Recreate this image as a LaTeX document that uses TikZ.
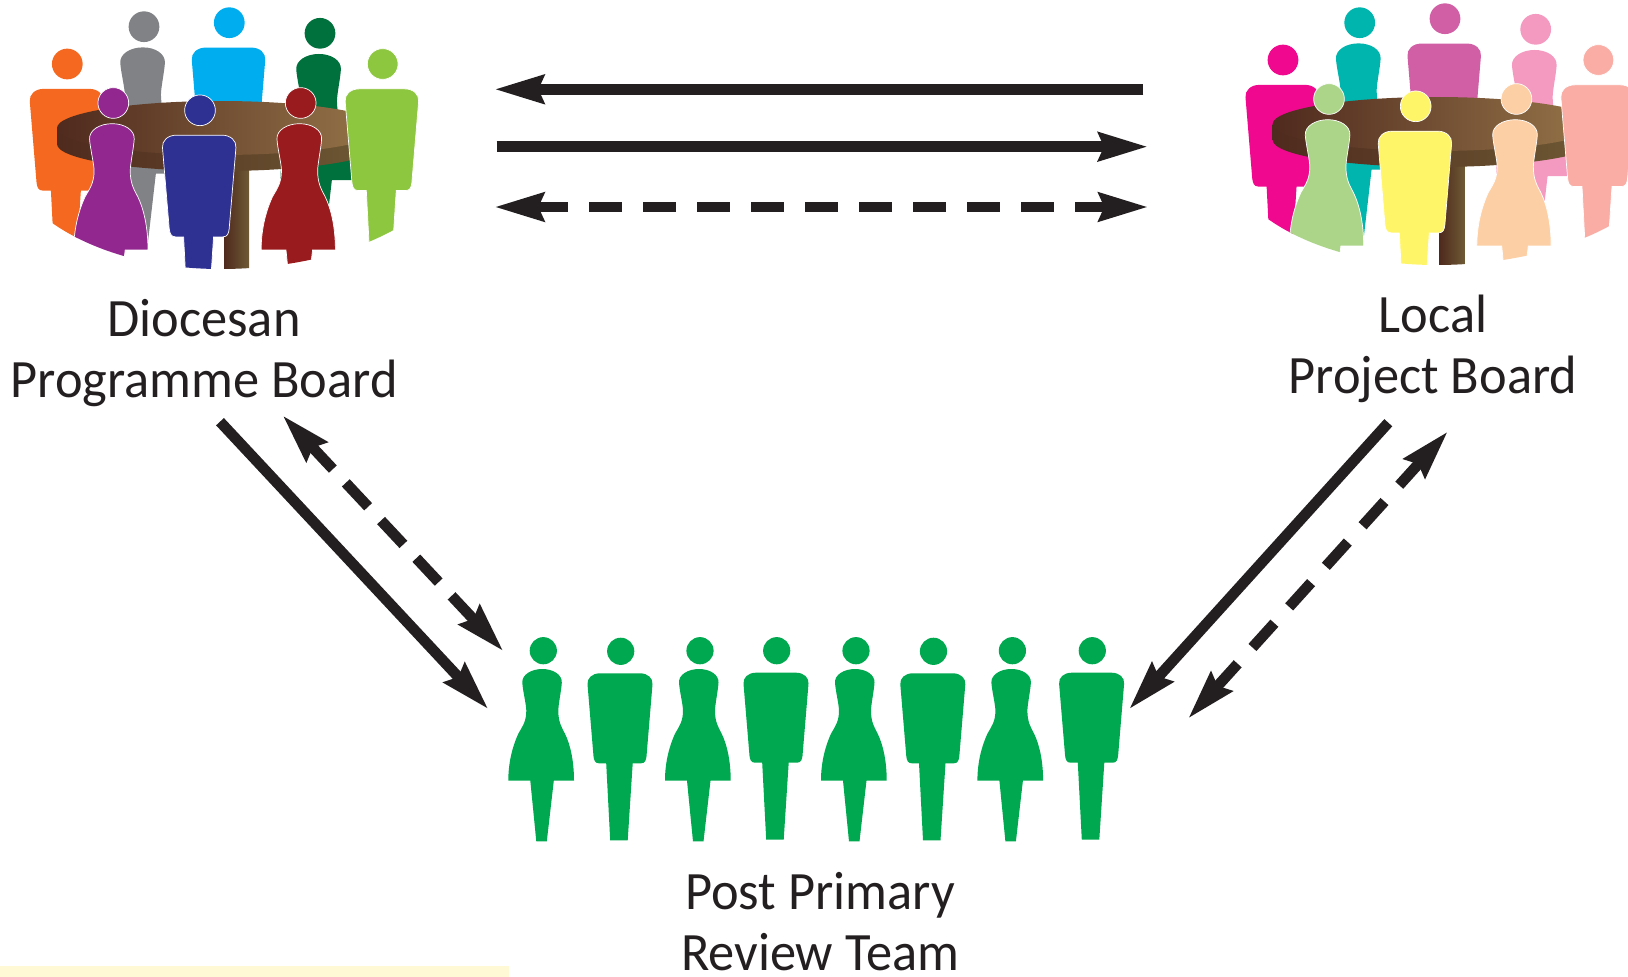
\documentclass[tikz,border=0pt]{standalone}
\usepackage{fontspec}
\setmainfont{Carlito}[FakeStretch=0.97]
\usetikzlibrary{arrows.meta}

\definecolor{inkblack}{HTML}{231F20}
\definecolor{teamgreen}{HTML}{00A94F}
\definecolor{tabledark}{HTML}{4F2A1E}
\definecolor{tablemid}{HTML}{8A6640}
\definecolor{tablelight}{HTML}{967549}
\definecolor{tableside}{HTML}{6E5A34}
\definecolor{bandyellow}{HTML}{FFF9D6}
\definecolor{huorange}{HTML}{F56820}
\definecolor{hugrey}{HTML}{808285}
\definecolor{hucyan}{HTML}{00AEEF}
\definecolor{hudkgreen}{HTML}{00703C}
\definecolor{hulime}{HTML}{8DC63F}
\definecolor{hupurple}{HTML}{92278F}
\definecolor{hublue}{HTML}{2E3192}
\definecolor{hured}{HTML}{991B1E}
\definecolor{hupink}{HTML}{F0098F}
\definecolor{huteal}{HTML}{00B5AD}
\definecolor{humauve}{HTML}{D15FA5}
\definecolor{hultpink}{HTML}{F49AC1}
\definecolor{husalmon}{HTML}{F9ADA5}
\definecolor{hultgreen}{HTML}{ADD58A}
\definecolor{huyellow}{HTML}{FFF568}
\definecolor{hupeach}{HTML}{FDCFA5}

\tikzset{
    pics/manfig/.style={code={
        \path[pic actions] (0,0) circle[radius=13.6];
        \path[pic actions] (-14.5,112) -- (-10.5,189) -- (7,189) -- (12,112) -- (20.3,112)
            .. controls (24.3,112) and (25.3,109) .. (25.8,105) -- (31.8,33)
            .. controls (32.3,27) and (27.3,22) .. (19.3,22) -- (-20.7,22)
            .. controls (-28.7,22) and (-33.7,27) .. (-33.2,33) -- (-27.2,105)
            .. controls (-26.7,109) and (-25.7,112) .. (-21.7,112) -- cycle;
    }},
    pics/womanfig/.style={code={
        \path[pic actions] (0,0) circle[radius=13.6];
        \path[pic actions] (-13,130) -- (-7,190.7) -- (3.5,190.7) -- (10.5,130) -- (30.7,130)
            .. controls (30.7,110) and (27,94) .. (21.7,83)
            .. controls (18,76) and (15,71) .. (15,60)
            .. controls (15,54) and (18,40) .. (18.5,32)
            .. controls (19,24) and (10,18.3) .. (-1,18.3)
            .. controls (-12,18.3) and (-21.5,24) .. (-21,32)
            .. controls (-20.5,40) and (-17,54) .. (-17,60)
            .. controls (-17,71) and (-21,76) .. (-25,83)
            .. controls (-30,94) and (-35,110) .. (-35,130) -- cycle;
    }},
    backrow/.style={scale=1.13},
    frontrow/.style={scale=1.13, draw=white, line width=.7pt},
    boardlabel/.style={align=center, text=inkblack, font=\fontsize{54}{61}\selectfont},
    plainarrow/.style={draw=inkblack, line width=10.7pt},
    headright/.style={-{Stealth[length=49pt, width=27.5pt, inset=5pt, inkblack]}},
    headboth/.style={{Stealth[length=49pt, width=27.5pt, inset=5pt, inkblack]}-{Stealth[length=49pt, width=27.5pt, inset=5pt, inkblack]}},
    dashline/.style 2 args={dash pattern=on 32.7pt off #1, dash phase=#2}
}

% one table with its eight people, clipped along the bottom
\newcommand{\boardgroup}[9]{
    \begin{scope}[shift={#1}]
        \clip (3,143) .. controls (3,212.6) and (100,269) .. (220,269)
            .. controls (352.5,269) and (460,212.6) .. (460,143) -- (460,-20) -- (3,-20) -- cycle;
        \pic[backrow, fill=#2] at (67.3,64) {manfig};
        \pic[backrow, fill=#3] at (144,26.7) {womanfig};
        \pic[backrow, fill=#4] at (229.3,22.7) {manfig};
        \pic[backrow, fill=#5] at (320,33.3) {womanfig};

        % table leg, side and top
        \shade[left color=tabledark, middle color=tableside, right color=tableside] (224,165) rectangle (249,270);
        \shade[left color=tabledark, right color=tableside] (57,128) -- (57,144)
            .. controls (57,159) and (130,171) .. (220,171)
            .. controls (310,171) and (383,159) .. (383,144) -- (383,128) -- cycle;
        \shade[left color=tabledark, middle color=tablemid, right color=tablelight]
            (220,128) ellipse[x radius=163, y radius=27];

        \pic[frontrow, fill=#6] at (382.7,64) {manfig};
        \pic[frontrow, fill=#7] at (113.3,103) {womanfig};
        \pic[frontrow, fill=#8] at (200,110.3) {manfig};
        \pic[frontrow, fill=#9] at (300.7,103) {womanfig};
    \end{scope}
}

\begin{document}
\begin{tikzpicture}[x=1pt, y=-1pt]

    \useasboundingbox (0,0) rectangle (1628,977);
    \fill[white] (0,0) rectangle (1628,977);
    \fill[bandyellow] (0,966) rectangle (509,977);

    % the two boards
    \boardgroup{(0,0)}{huorange}{hugrey}{hucyan}{hudkgreen}{hulime}{hupurple}{hublue}{hured}
    \boardgroup{(1215.7,-4)}{hupink}{huteal}{humauve}{hultpink}{husalmon}{hultgreen}{huyellow}{hupeach}

    % the review team
    \pic[fill=teamgreen] at (543.3,650.7) {womanfig};
    \pic[fill=teamgreen] at (620.7,651.3) {manfig};
    \pic[fill=teamgreen] at (700,650.7) {womanfig};
    \pic[fill=teamgreen] at (776.7,650.7) {manfig};
    \pic[fill=teamgreen] at (856,650.7) {womanfig};
    \pic[fill=teamgreen] at (933.5,651.3) {manfig};
    \pic[fill=teamgreen] at (1012.4,650.7) {womanfig};
    \pic[fill=teamgreen] at (1092.3,650.7) {manfig};

    \node[boardlabel] (diocesan) at (204,353) {Diocesan\\Programme Board};
    \node[boardlabel] (local) at (1433,349) {Local\\Project Board};
    \node[boardlabel] (team) at (820,922) {Post Primary\\Review Team};

    % free ends of the arrows
    \coordinate (t1r) at (1143.3,89.3);
    \coordinate (t1l) at (494.2,89.3);
    \coordinate (t2l) at (496.7,146.7);
    \coordinate (t2r) at (1148.2,146.7);
    \coordinate (t3l) at (494.2,207);
    \coordinate (t3r) at (1148.5,207);
    \coordinate (d1a) at (220,421.7);
    \coordinate (d1b) at (488.5,709.3);
    \coordinate (d2a) at (282.5,415.3);
    \coordinate (d2b) at (503.5,651.3);
    \coordinate (d3a) at (1388.3,422.7);
    \coordinate (d3b) at (1129,709.3);
    \coordinate (d4a) at (1448,431.3);
    \coordinate (d4b) at (1188,718.7);

    \draw[plainarrow, headright] (t1r) -- (t1l);
    \draw[plainarrow, headright] (t2l) -- (t2r);
    \draw[plainarrow, headboth, dashline={21.3pt}{0pt}] (t3l) -- (t3r);

    \draw[plainarrow, headright] (d1a) -- (d1b);
    \draw[plainarrow, headboth, dashline={18.9pt}{0pt}] (d2a) -- (d2b);
    \draw[plainarrow, headright] (d3a) -- (d3b);
    \draw[plainarrow, headboth, dashline={22pt}{1pt}] (d4a) -- (d4b);

\end{tikzpicture}
\end{document}
